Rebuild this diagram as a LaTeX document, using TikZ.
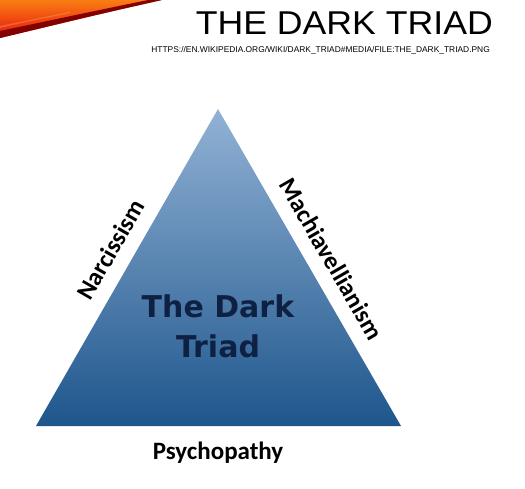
\documentclass[tikz,border=0pt]{standalone}
\usepackage{fontspec}
\setmainfont{Liberation Sans}
\newfontfamily\titlefont[FakeStretch=1.08]{Liberation Sans}
\newfontfamily\labelfont{Carlito}
\newfontfamily\heavyfont{DejaVu Sans}
\usetikzlibrary{positioning}
\definecolor{triadtop}{RGB}{146,178,213}
\definecolor{triadbot}{RGB}{30,86,140}
\definecolor{triadnavy}{RGB}{14,33,66}
\definecolor{swooshorange}{RGB}{250,125,20}
\definecolor{swooshred}{RGB}{230,20,10}
\definecolor{swooshdark}{RGB}{130,0,0}

\begin{document}
\begin{tikzpicture}[x=1pt, y=-1pt,
  side/.style={font=\labelfont\bfseries\fontsize{25}{28}\selectfont, sloped, above=11pt},
  title/.style={font=\titlefont\fontsize{33}{36}\selectfont, anchor=base east, inner sep=0pt}]
  \useasboundingbox[fill=white] (0,0) rectangle (525,489);
  % red swoosh in the corner
  \shade[top color=swooshorange, bottom color=swooshred] (0,0) -- (162,0) .. controls (100,14) .. (0,38) -- cycle;
  \fill[swooshdark] (148,0) -- (162,0) .. controls (100,14) .. (0,38) -- (0,31) .. controls (90,12) .. (148,0) -- cycle;
  \fill[white, opacity=.2] (0,26) .. controls (30,20) .. (70,12) -- (70,13) .. controls (30,21) .. (0,28) -- cycle;
  \node[title] (head) at (493,35) {THE DARK TRIAD};
  \node[anchor=base east, inner sep=0pt, font=\fontsize{8.4}{9}\selectfont] (src) at (490,53) {HTTPS://EN.WIKIPEDIA.ORG/WIKI/DARK\_TRIAD\#MEDIA/FILE:THE\_DARK\_TRIAD.PNG};
  % triangle
  \coordinate (apex) at (218,109);
  \coordinate (bl) at (36,426);
  \coordinate (br) at (401,426);
  \shade[top color=triadtop, bottom color=triadbot] (apex) -- (br) -- (bl) -- cycle;
  \node[align=center, text=triadnavy, font=\heavyfont\bfseries\fontsize{30}{40}\selectfont] (core) at (218,326) {The Dark\\Triad};
  \path (bl) -- (apex) node[side, pos=.52] (narc) {Narcissism};
  \path (apex) -- (br) node[side, pos=.51] (mach) {Machiavellianism};
  \node[anchor=base, font=\labelfont\bfseries\fontsize{25}{28}\selectfont] (psych) at (218,459) {Psychopathy};
\end{tikzpicture}
\end{document}
